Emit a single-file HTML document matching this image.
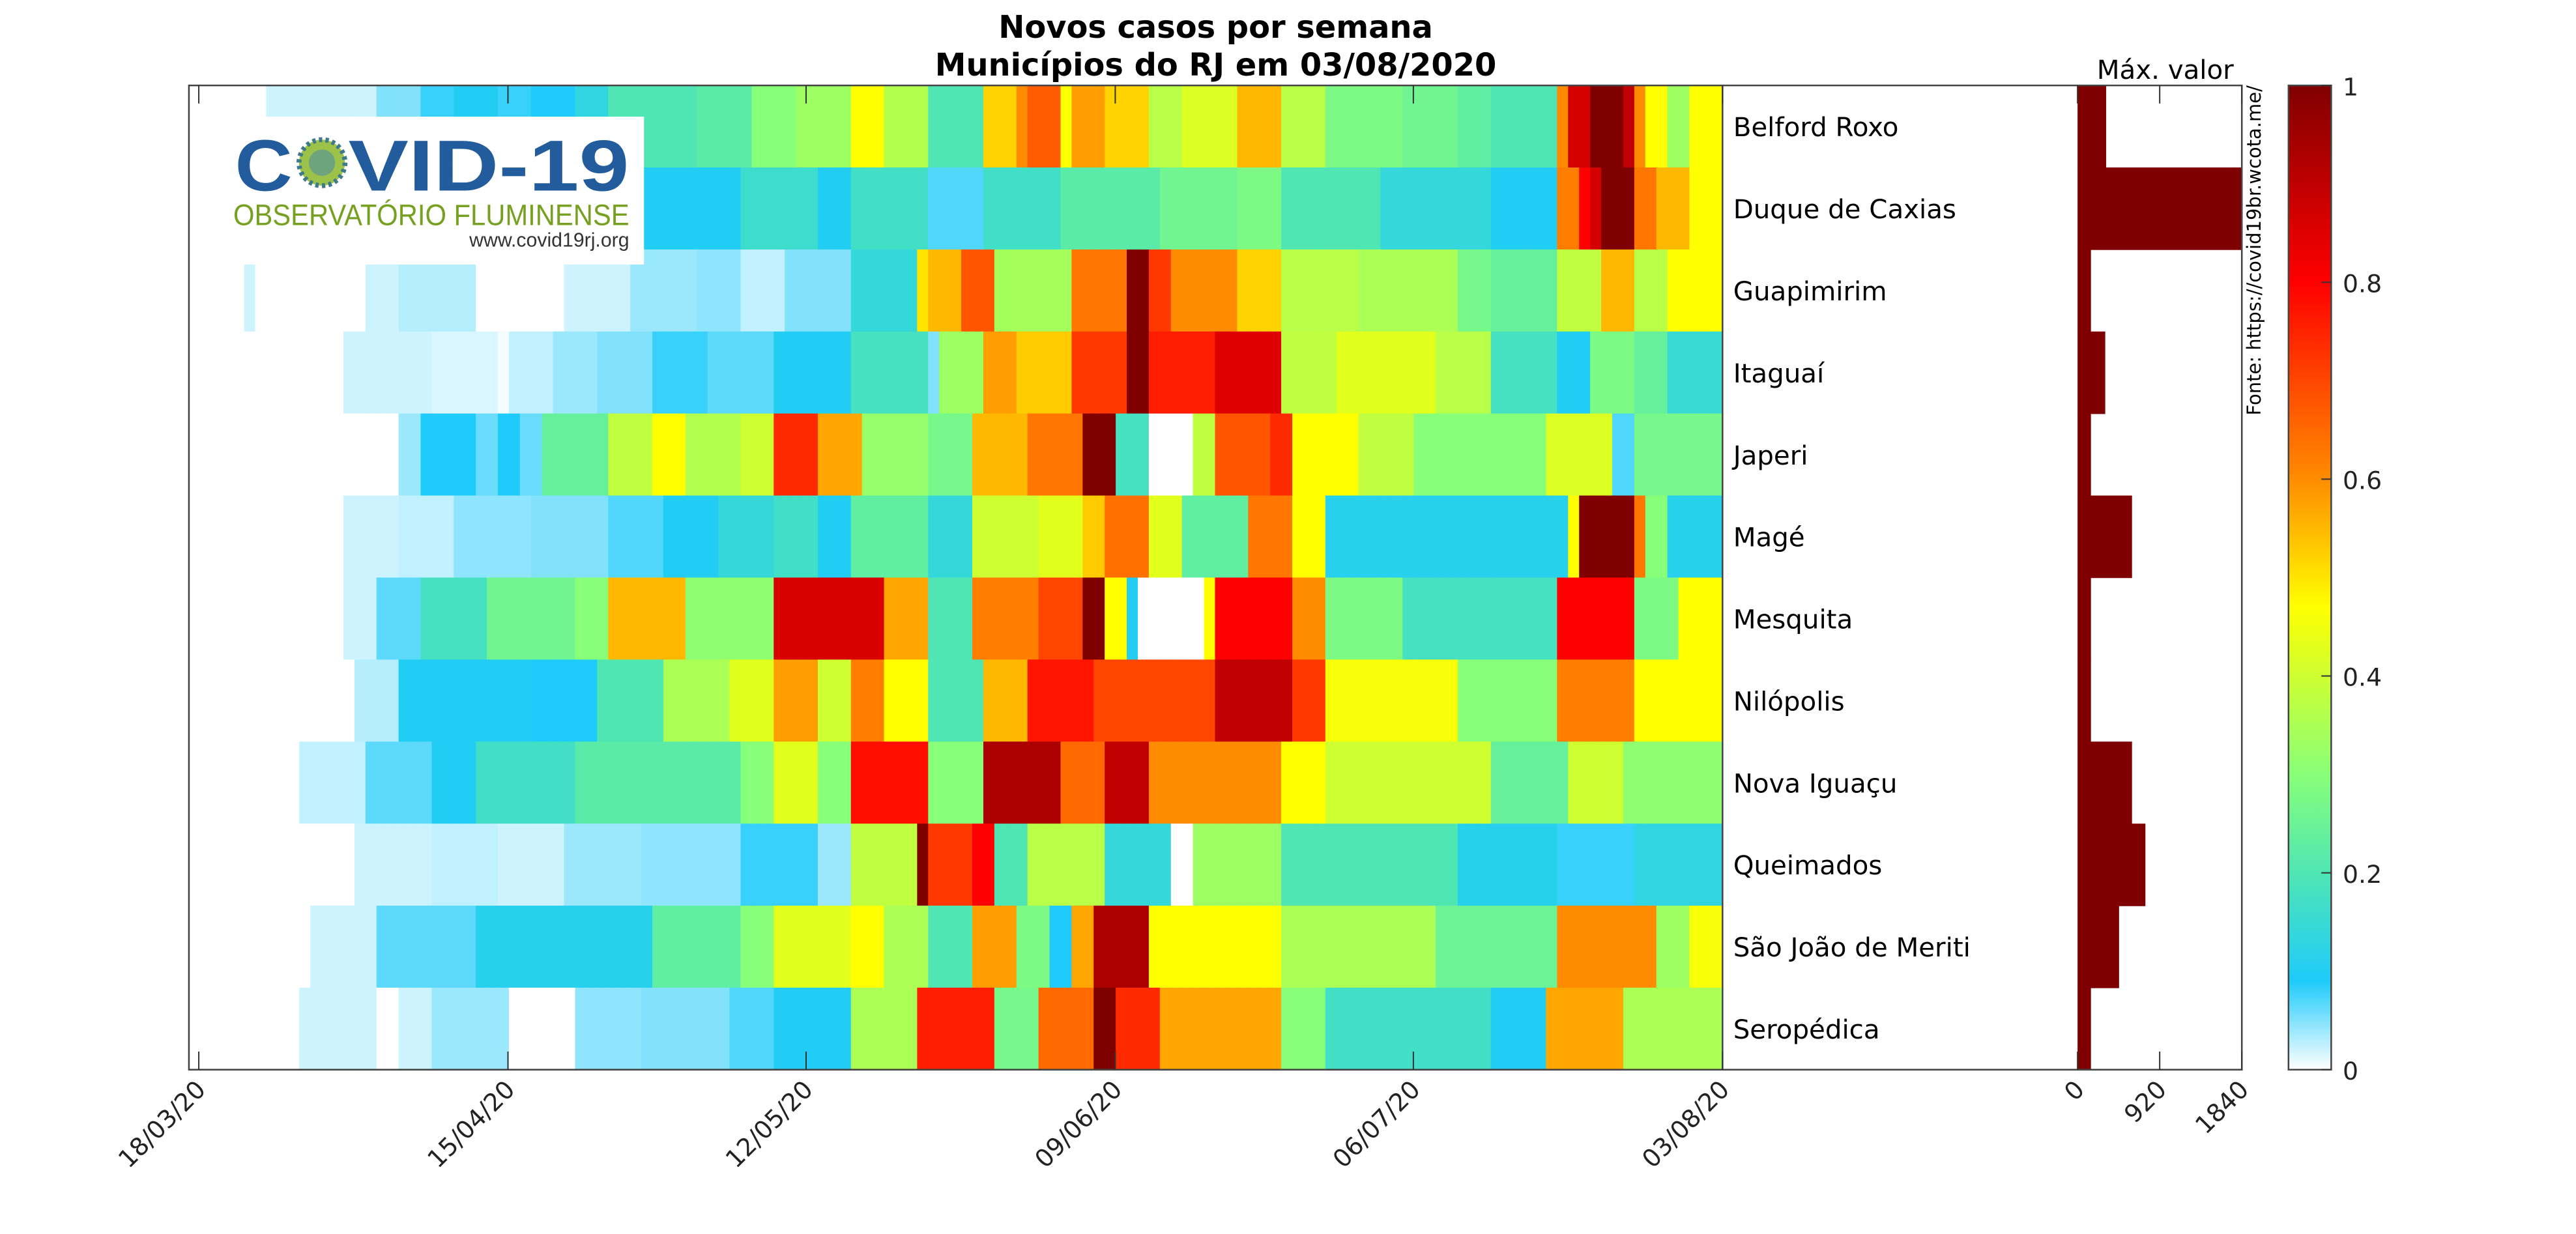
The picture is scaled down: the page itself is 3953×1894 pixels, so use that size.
<!DOCTYPE html>
<html><head><meta charset="utf-8"><title>Novos casos por semana</title>
<style>html,body{margin:0;padding:0;background:#fff}svg{display:block}text{font-family:"DejaVu Sans","Liberation Sans",sans-serif}</style></head>
<body>
<svg id="chart" xmlns="http://www.w3.org/2000/svg" width="3953" height="1894" viewBox="0 0 1568 751" preserveAspectRatio="none">
<rect x="0" y="0" width="1568" height="751" fill="#fff"/>
<text x="740" y="23" text-anchor="middle" font-size="19" font-weight="bold" fill="#000">Novos casos por semana</text>
<text x="740" y="46" text-anchor="middle" font-size="19" font-weight="bold" fill="#000">Municípios do RJ em 03/08/2020</text>
<g id="cells"></g>
<g id="bars"></g>
<g id="axes"></g>
<g>
<rect x="116" y="71" width="276" height="90" fill="#fff"/>
<text x="143" y="116" font-size="44" font-weight="bold" fill="#225c9c" textLength="35" lengthAdjust="spacingAndGlyphs" style="font-family:'Liberation Sans',sans-serif">C</text>
<circle cx="196" cy="99" r="14" fill="#9cc24a" stroke="#3c7a8c" stroke-width="3" stroke-dasharray="2 2"/>
<circle cx="196" cy="99" r="8" fill="#4f8fa0" opacity="0.6"/>
<text x="212" y="116" font-size="44" font-weight="bold" fill="#225c9c" textLength="171" lengthAdjust="spacingAndGlyphs" style="font-family:'Liberation Sans',sans-serif">VID-19</text>
<text x="142" y="137" font-size="18" fill="#76a020" textLength="241" lengthAdjust="spacingAndGlyphs" style="font-family:'Liberation Sans',sans-serif">OBSERVATÓRIO FLUMINENSE</text>
<text x="383" y="150" text-anchor="end" font-size="12" fill="#333" style="font-family:'Liberation Sans',sans-serif">www.covid19rj.org</text>
</g>
<text x="1318" y="48" text-anchor="middle" font-size="16" fill="#000">Máx. valor</text>
<text transform="translate(1376,52) rotate(-90)" text-anchor="end" font-size="11.5" fill="#000">Fonte: https://covid19br.wcota.me/</text>
<defs><linearGradient id="cbg" x1="0" y1="1" x2="0" y2="0">
<stop offset="0" stop-color="#ffffff"/><stop offset="0.09" stop-color="#1ecbfa"/><stop offset="0.2" stop-color="#4fe6b4"/><stop offset="0.3" stop-color="#88ff78"/><stop offset="0.47" stop-color="#ffff00"/><stop offset="0.6" stop-color="#ff8c00"/><stop offset="0.8" stop-color="#ff0000"/><stop offset="1" stop-color="#800000"/>
</linearGradient></defs>
<rect x="1393" y="52" width="26" height="599" fill="url(#cbg)" stroke="#444" stroke-width="1"/>
<g id="cbticks"></g>
</svg>
<script>
const municipalities = ["Belford Roxo","Duque de Caxias","Guapimirim","Itaguaí","Japeri","Magé","Mesquita","Nilópolis","Nova Iguaçu","Queimados","São João de Meriti","Seropédica"];
const dateLabels = ["18/03/20","15/04/20","12/05/20","09/06/20","06/07/20","03/08/20"];
const dateTickDays = [0,28,55,83,110,138];
const totalDays = 139;
const maxValues = [320,1840,150,310,150,610,150,150,610,760,465,150];
const barTicks = [0,920,1840];
const colorTicks = [0,0.2,0.4,0.6,0.8,1];
const runStarts0 = [0,7,17,21,24,28,31,35,38,46,51,55,60,63,67,72,75,76,79,80,83,87,90,95,99,103,110,115,118,124,125,127,130,131,132,134,136];
const runValues0 = [0,.02,.05,.08,.1,.08,.09,.13,.2,.22,.3,.33,.47,.36,.2,.52,.6,.67,.47,.58,.52,.37,.42,.55,.37,.28,.26,.23,.2,.6,.87,1,.9,.6,.47,.33,.47];
const runStarts1 = [0,3,40,50,57,60,67,72,79,88,95,99,108,118,124,126,127,128,131,133,136];
const runValues1 = [0,.05,.1,.16,.1,.17,.07,.17,.22,.26,.28,.2,.14,.1,.62,.8,.87,1,.63,.55,.47];
const runStarts2 = [0,5,6,16,19,26,34,40,46,50,54,60,66,67,70,73,80,85,87,89,95,99,106,115,118,124,128,131,134];
const runValues2 = [0,.02,0,.02,.03,0,.02,.04,.045,.025,.05,.14,.5,.55,.68,.34,.63,1,.72,.6,.52,.37,.35,.27,.24,.38,.55,.37,.47];
const runStarts3 = [0,14,22,28,29,33,37,42,47,53,60,67,68,72,75,80,85,87,93,99,104,113,118,124,127,131,134];
const runValues3 = [0,.02,.015,.005,.025,.04,.05,.08,.065,.1,.18,.05,.33,.58,.53,.72,1,.76,.85,.38,.43,.37,.18,.1,.28,.24,.15];
const runStarts4 = [0,19,21,26,28,30,32,38,42,45,50,53,57,61,67,71,76,81,84,87,91,93,98,100,106,111,123,129,131];
const runValues4 = [0,.04,.09,.06,.09,.06,.24,.38,.47,.36,.4,.74,.57,.32,.27,.55,.63,1,.18,0,.38,.68,.74,.47,.38,.3,.42,.07,.27];
const runStarts5 = [0,14,19,24,31,38,43,48,53,57,60,67,71,77,81,83,87,90,96,100,103,125,126,131,132,134];
const runValues5 = [0,.02,.025,.045,.05,.07,.1,.14,.17,.1,.23,.14,.4,.43,.53,.64,.43,.23,.63,.47,.11,.47,1,.63,.3,.11];
const runStarts6 = [0,14,17,21,27,35,38,45,53,63,67,71,77,81,83,85,86,92,93,100,103,110,124,131,135];
const runValues6 = [0,.02,.065,.18,.26,.3,.55,.31,.86,.57,.2,.62,.7,1,.47,.1,0,.47,.8,.6,.28,.18,.8,.28,.47];
const runStarts7 = [0,15,19,31,37,43,49,53,57,60,63,67,72,76,82,93,100,103,115,124,131];
const runValues7 = [0,.03,.1,.09,.2,.35,.43,.58,.4,.62,.47,.2,.55,.77,.7,.9,.72,.46,.3,.62,.47];
const runStarts8 = [0,10,16,22,26,35,50,53,57,60,67,72,79,83,87,99,103,118,125,130];
const runValues8 = [0,.025,.065,.1,.17,.22,.3,.43,.3,.78,.3,.93,.65,.9,.6,.47,.4,.24,.4,.31];
const runStarts9 = [0,15,22,28,34,41,50,57,60,66,67,71,73,76,83,89,91,99,115,124,131];
const runValues9 = [0,.02,.025,.02,.04,.045,.08,.04,.38,1,.72,.8,.2,.37,.14,0,.33,.2,.11,.08,.13];
const runStarts10 = [0,11,17,26,42,50,53,60,63,67,71,75,78,80,82,87,99,113,124,133,136];
const runValues10 = [0,.02,.065,.11,.23,.3,.43,.47,.35,.2,.58,.28,.09,.57,.93,.47,.35,.25,.6,.33,.46];
const runStarts11 = [0,10,17,19,22,29,35,41,49,53,60,66,73,77,82,84,88,99,103,118,123,130];
const runValues11 = [0,.02,0,.02,.04,0,.045,.05,.07,.1,.35,.76,.27,.65,1,.74,.57,.3,.17,.1,.57,.35];

const NS = "http://www.w3.org/2000/svg";
const plotL = 115, plotR = 1048.5, plotT = 52, plotB = 651;
const rowH = (plotB - plotT) / municipalities.length;
function xDay(d){ return plotL + (plotR - plotL) * d / totalDays; }
function tickX(d){ return 121 + (1048.5 - 121) * d / 138; }
function yRow(r){ return plotT + r * rowH; }
const barL = 1264.6, barR = 1364.6;
function xBar(v){ return barL + (barR - barL) * v / 1840; }
function yColor(v){ return plotB - (plotB - plotT) * v; }
const stops = [[0,[255,255,255]],[0.09,[30,203,250]],[0.2,[79,230,180]],[0.3,[136,255,120]],[0.47,[255,255,0]],[0.6,[255,140,0]],[0.8,[255,0,0]],[1,[128,0,0]]];
function cmap(v){
  v = Math.max(0, Math.min(1, v));
  for (let i = 1; i < stops.length; i++) {
    if (v <= stops[i][0]) {
      const a = stops[i-1], b = stops[i], t = (v - a[0]) / (b[0] - a[0]);
      const c = a[1].map((x, k) => Math.round(x + (b[1][k] - x) * t));
      return "rgb(" + c.join(",") + ")";
    }
  }
  return "rgb(128,0,0)";
}
function mk(tag, attrs){ const e = document.createElementNS(NS, tag); for (const k in attrs) e.setAttribute(k, attrs[k]); return e; }
const allStarts = [runStarts0,runStarts1,runStarts2,runStarts3,runStarts4,runStarts5,runStarts6,runStarts7,runStarts8,runStarts9,runStarts10,runStarts11];
const allValues = [runValues0,runValues1,runValues2,runValues3,runValues4,runValues5,runValues6,runValues7,runValues8,runValues9,runValues10,runValues11];
const cells = document.getElementById("cells");
for (let r = 0; r < municipalities.length; r++) {
  const st = allStarts[r], vs = allValues[r];
  const daily = [];
  for (let i = 0; i < st.length; i++) {
    const end = i + 1 < st.length ? st[i+1] : totalDays;
    for (let d = st[i]; d < end; d++) daily[d] = vs[i];
  }
  for (let d = 0; d < totalDays; d++) {
    const x0 = xDay(d), x1 = xDay(d + 1);
    const rc = mk("rect", {x: x0, y: yRow(r), width: (x1 - x0) + 0.4, height: rowH + 0.3, fill: cmap(daily[d])});
    
    
    cells.appendChild(rc);
  }
}
const bars = document.getElementById("bars");
for (let r = 0; r < municipalities.length; r++) {
  const b = mk("rect", {x: xBar(0), y: yRow(r), width: xBar(maxValues[r]) - xBar(0), height: rowH + 0.3, fill: "#7e0000"});
  
  
  bars.appendChild(b);
  const t = mk("text", {x: 1055, y: yRow(r) + rowH/2 + 6, "font-size": 16, fill: "#000"});
  t.textContent = municipalities[r];
  
  
  bars.appendChild(t);
}
const axes = document.getElementById("axes");
const frame = mk("path", {d: "M115,52 H1364.6 V651 H115 Z M1048.5,52 V651", fill: "none", stroke: "#444", "stroke-width": 1});


axes.appendChild(frame);
for (let i = 0; i < dateTickDays.length; i++) {
  const x = tickX(dateTickDays[i]);
  const tk = mk("path", {d: "M" + x + ",651 v-11 M" + x + ",52 v11", stroke: "#333", "stroke-width": 0.8});
  
  
  axes.appendChild(tk);
  const lb = mk("text", {transform: "translate(" + (x + 5) + ",664) rotate(-45)", "text-anchor": "end", "font-size": 15, fill: "#222"});
  lb.textContent = dateLabels[i];
  
  
  axes.appendChild(lb);
}
for (let i = 0; i < barTicks.length; i++) {
  const x = xBar(barTicks[i]);
  const tk = mk("path", {d: "M" + x + ",651 v-11 M" + x + ",52 v11", stroke: "#333", "stroke-width": 0.8});
  
  
  axes.appendChild(tk);
  const lb = mk("text", {transform: "translate(" + (x + 5) + ",664) rotate(-45)", "text-anchor": "end", "font-size": 15, fill: "#222"});
  lb.textContent = String(barTicks[i]);
  
  
  axes.appendChild(lb);
}
const cbt = document.getElementById("cbticks");
for (let i = 0; i < colorTicks.length; i++) {
  const y = yColor(colorTicks[i]);
  const tk = mk("path", {d: "M1419,"+y+" h-6", stroke: "#333", "stroke-width": 0.8});
  
  
  cbt.appendChild(tk);
  const lb = mk("text", {x: 1426, y: y + 6, "font-size": 15, fill: "#222"});
  lb.textContent = String(colorTicks[i]);
  
  
  cbt.appendChild(lb);
}
</script>
</body></html>
